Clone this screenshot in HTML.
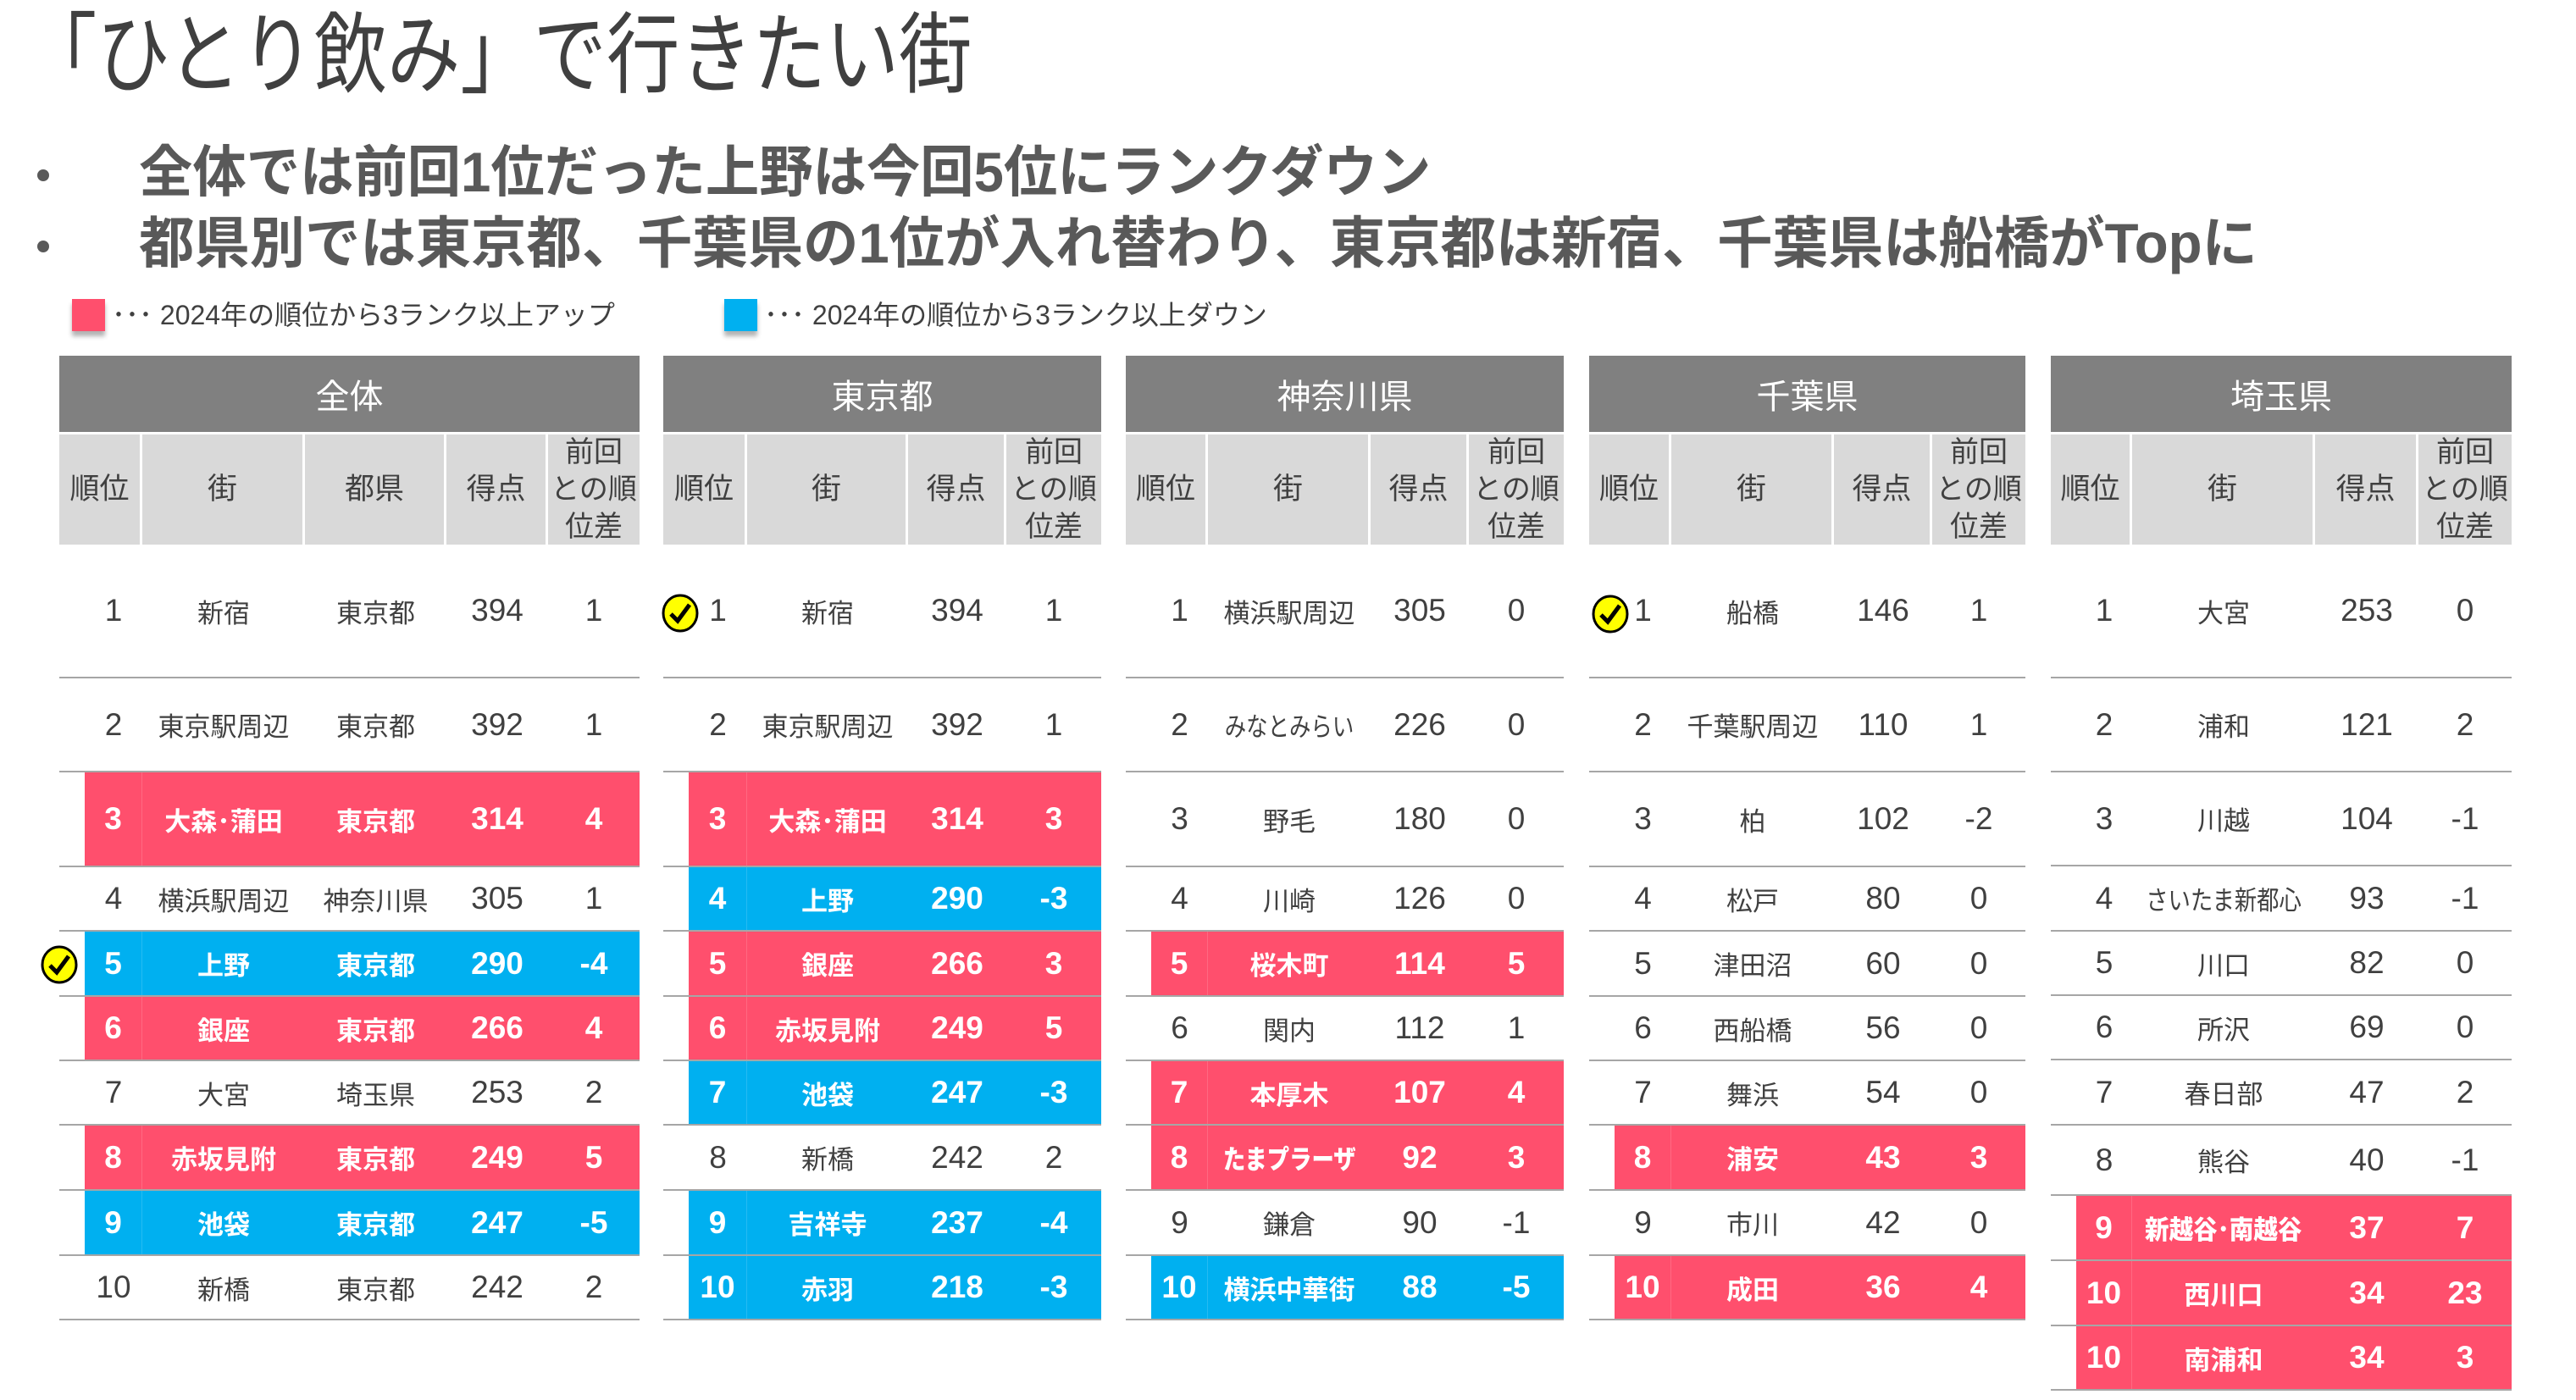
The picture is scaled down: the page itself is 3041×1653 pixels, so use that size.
<!DOCTYPE html>
<html><head><meta charset="utf-8">
<style>
*{margin:0;padding:0;box-sizing:border-box}
body{width:3041px;height:1653px;background:#fff;position:relative;overflow:hidden;font-family:"Liberation Sans","Noto Sans CJK JP",sans-serif;color:#404040}
.abs{position:absolute}
.title{left:28px;top:6px;font-size:104px;line-height:120px;white-space:nowrap;transform:scaleX(0.83);transform-origin:left top;color:#404040}
.bul{font-weight:bold;font-size:66px;line-height:80px;color:#595959;white-space:nowrap;transform-origin:left top}
.dot{width:14px;height:14px;border-radius:50%;background:#595959}
.leg{font-size:32px;line-height:40px;white-space:nowrap;color:#404040;transform-origin:left top}
.sq{width:39px;height:38px;box-shadow:0 6px 5px rgba(0,0,0,0.3)}
.t{position:absolute;top:420px}
.h{position:absolute;left:0;right:0;top:0;height:90px;background:#808080;color:#fff;font-size:40px;display:flex;align-items:center;justify-content:center}
.sh{position:absolute;left:0;right:0;top:93px;height:130px;display:flex}
.sh div{background:#d9d9d9;border-right:3px solid #fff;display:flex;align-items:center;justify-content:center;text-align:center;font-size:35px;line-height:44px;color:#404040}
.sh div:last-child{border-right:none;font-size:34px}
.r{position:absolute;left:0;right:0;display:flex;border-bottom:2px solid #a6a6a6;font-size:31px}
.r .bg{position:absolute;left:30px;right:0;top:0;bottom:0}
.r span{position:relative;display:flex;align-items:center;justify-content:center;white-space:nowrap}
.r span:first-of-type{padding-left:30px}
.n{font-size:37px}
.red .bg{background:#ff4f6d}.blu .bg{background:#00b0f0}
.red,.blu{color:#fff;font-weight:bold}
.red span:first-of-type,.blu span:first-of-type{border-right:1px solid rgba(255,255,255,0.15)}
.ck{position:absolute;width:44px;height:46px}
</style></head><body>
<div class="abs title">「ひとり飲み」で行きたい街</div>
<div class="abs dot" style="left:44px;top:200px"></div>
<div class="abs dot" style="left:44px;top:284px"></div>
<div class="abs bul" style="left:164px;top:163px;transform:scaleX(0.96)">全体では前回1位だった上野は今回5位にランクダウン</div>
<div class="abs bul" style="left:164px;top:247px;transform:scaleX(0.99)">都県別では東京都、千葉県の1位が入れ替わり、東京都は新宿、千葉県は船橋がTopに</div>
<div class="abs sq" style="left:85px;top:353px;background:#ff4f6d"></div>
<div class="abs leg" style="left:132px;top:352px">･･･ 2024年の順位から3ランク以上アップ</div>
<div class="abs sq" style="left:855px;top:353px;background:#00b0f0"></div>
<div class="abs leg" style="left:902px;top:352px">･･･ 2024年の順位から3ランク以上ダウン</div>

<!-- T1 -->
<div class="t" style="left:70px;width:685px">
<div class="h">全体</div>
<div class="sh"><div style="width:98px">順位</div><div style="width:192px">街</div><div style="width:167px">都県</div><div style="width:120px">得点</div><div style="width:108px">前回<br>との順<br>位差</div></div>
<div class="r" style="top:223px;height:158px"><span style="width:98px" class="n">1</span><span style="width:192px">新宿</span><span style="width:167px">東京都</span><span style="width:120px" class="n">394</span><span style="width:108px" class="n">1</span></div>
<div class="r" style="top:381px;height:111px"><span style="width:98px" class="n">2</span><span style="width:192px">東京駅周辺</span><span style="width:167px">東京都</span><span style="width:120px" class="n">392</span><span style="width:108px" class="n">1</span></div>
<div class="r red" style="top:492px;height:112px"><i class="bg"></i><span style="width:98px" class="n">3</span><span style="width:192px">大森･蒲田</span><span style="width:167px">東京都</span><span style="width:120px" class="n">314</span><span style="width:108px" class="n">4</span></div>
<div class="r" style="top:604px;height:76px"><span style="width:98px" class="n">4</span><span style="width:192px">横浜駅周辺</span><span style="width:167px">神奈川県</span><span style="width:120px" class="n">305</span><span style="width:108px" class="n">1</span></div>
<div class="r blu" style="top:680px;height:77px"><i class="bg"></i><span style="width:98px" class="n">5</span><span style="width:192px">上野</span><span style="width:167px">東京都</span><span style="width:120px" class="n">290</span><span style="width:108px" class="n">-4</span></div>
<div class="r red" style="top:757px;height:76px"><i class="bg"></i><span style="width:98px" class="n">6</span><span style="width:192px">銀座</span><span style="width:167px">東京都</span><span style="width:120px" class="n">266</span><span style="width:108px" class="n">4</span></div>
<div class="r" style="top:833px;height:76px"><span style="width:98px" class="n">7</span><span style="width:192px">大宮</span><span style="width:167px">埼玉県</span><span style="width:120px" class="n">253</span><span style="width:108px" class="n">2</span></div>
<div class="r red" style="top:909px;height:77px"><i class="bg"></i><span style="width:98px" class="n">8</span><span style="width:192px">赤坂見附</span><span style="width:167px">東京都</span><span style="width:120px" class="n">249</span><span style="width:108px" class="n">5</span></div>
<div class="r blu" style="top:986px;height:77px"><i class="bg"></i><span style="width:98px" class="n">9</span><span style="width:192px">池袋</span><span style="width:167px">東京都</span><span style="width:120px" class="n">247</span><span style="width:108px" class="n">-5</span></div>
<div class="r" style="top:1063px;height:76px"><span style="width:98px" class="n">10</span><span style="width:192px">新橋</span><span style="width:167px">東京都</span><span style="width:120px" class="n">242</span><span style="width:108px" class="n">2</span></div>
</div>

<!-- T2 -->
<div class="t" style="left:783px;width:517px">
<div class="h">東京都</div>
<div class="sh"><div style="width:99px">順位</div><div style="width:190px">街</div><div style="width:116px">得点</div><div style="width:112px">前回<br>との順<br>位差</div></div>
<div class="r" style="top:223px;height:158px"><span style="width:99px" class="n">1</span><span style="width:190px">新宿</span><span style="width:116px" class="n">394</span><span style="width:112px" class="n">1</span></div>
<div class="r" style="top:381px;height:111px"><span style="width:99px" class="n">2</span><span style="width:190px">東京駅周辺</span><span style="width:116px" class="n">392</span><span style="width:112px" class="n">1</span></div>
<div class="r red" style="top:492px;height:112px"><i class="bg"></i><span style="width:99px" class="n">3</span><span style="width:190px">大森･蒲田</span><span style="width:116px" class="n">314</span><span style="width:112px" class="n">3</span></div>
<div class="r blu" style="top:604px;height:76px"><i class="bg"></i><span style="width:99px" class="n">4</span><span style="width:190px">上野</span><span style="width:116px" class="n">290</span><span style="width:112px" class="n">-3</span></div>
<div class="r red" style="top:680px;height:77px"><i class="bg"></i><span style="width:99px" class="n">5</span><span style="width:190px">銀座</span><span style="width:116px" class="n">266</span><span style="width:112px" class="n">3</span></div>
<div class="r red" style="top:757px;height:76px"><i class="bg"></i><span style="width:99px" class="n">6</span><span style="width:190px">赤坂見附</span><span style="width:116px" class="n">249</span><span style="width:112px" class="n">5</span></div>
<div class="r blu" style="top:833px;height:76px"><i class="bg"></i><span style="width:99px" class="n">7</span><span style="width:190px">池袋</span><span style="width:116px" class="n">247</span><span style="width:112px" class="n">-3</span></div>
<div class="r" style="top:909px;height:77px"><span style="width:99px" class="n">8</span><span style="width:190px">新橋</span><span style="width:116px" class="n">242</span><span style="width:112px" class="n">2</span></div>
<div class="r blu" style="top:986px;height:77px"><i class="bg"></i><span style="width:99px" class="n">9</span><span style="width:190px">吉祥寺</span><span style="width:116px" class="n">237</span><span style="width:112px" class="n">-4</span></div>
<div class="r blu" style="top:1063px;height:76px"><i class="bg"></i><span style="width:99px" class="n">10</span><span style="width:190px">赤羽</span><span style="width:116px" class="n">218</span><span style="width:112px" class="n">-3</span></div>
</div>

<!-- T3 -->
<div class="t" style="left:1329px;width:517px">
<div class="h">神奈川県</div>
<div class="sh"><div style="width:97px">順位</div><div style="width:192px">街</div><div style="width:116px">得点</div><div style="width:112px">前回<br>との順<br>位差</div></div>
<div class="r" style="top:223px;height:158px"><span style="width:97px" class="n">1</span><span style="width:192px">横浜駅周辺</span><span style="width:116px" class="n">305</span><span style="width:112px" class="n">0</span></div>
<div class="r" style="top:381px;height:111px"><span style="width:97px" class="n">2</span><span style="width:192px"><b style="font-weight:normal;display:inline-block;transform:scaleX(0.82)">みなとみらい</b></span><span style="width:116px" class="n">226</span><span style="width:112px" class="n">0</span></div>
<div class="r" style="top:492px;height:112px"><span style="width:97px" class="n">3</span><span style="width:192px">野毛</span><span style="width:116px" class="n">180</span><span style="width:112px" class="n">0</span></div>
<div class="r" style="top:604px;height:76px"><span style="width:97px" class="n">4</span><span style="width:192px">川崎</span><span style="width:116px" class="n">126</span><span style="width:112px" class="n">0</span></div>
<div class="r red" style="top:680px;height:77px"><i class="bg"></i><span style="width:97px" class="n">5</span><span style="width:192px">桜木町</span><span style="width:116px" class="n">114</span><span style="width:112px" class="n">5</span></div>
<div class="r" style="top:757px;height:76px"><span style="width:97px" class="n">6</span><span style="width:192px">関内</span><span style="width:116px" class="n">112</span><span style="width:112px" class="n">1</span></div>
<div class="r red" style="top:833px;height:76px"><i class="bg"></i><span style="width:97px" class="n">7</span><span style="width:192px">本厚木</span><span style="width:116px" class="n">107</span><span style="width:112px" class="n">4</span></div>
<div class="r red" style="top:909px;height:77px"><i class="bg"></i><span style="width:97px" class="n">8</span><span style="width:192px"><b style="display:inline-block;transform:scaleX(0.85)">たまプラーザ</b></span><span style="width:116px" class="n">92</span><span style="width:112px" class="n">3</span></div>
<div class="r" style="top:986px;height:77px"><span style="width:97px" class="n">9</span><span style="width:192px">鎌倉</span><span style="width:116px" class="n">90</span><span style="width:112px" class="n">-1</span></div>
<div class="r blu" style="top:1063px;height:76px"><i class="bg"></i><span style="width:97px" class="n">10</span><span style="width:192px">横浜中華街</span><span style="width:116px" class="n">88</span><span style="width:112px" class="n">-5</span></div>
</div>

<!-- T4 -->
<div class="t" style="left:1876px;width:515px">
<div class="h">千葉県</div>
<div class="sh"><div style="width:97px">順位</div><div style="width:192px">街</div><div style="width:116px">得点</div><div style="width:110px">前回<br>との順<br>位差</div></div>
<div class="r" style="top:223px;height:158px"><span style="width:97px" class="n">1</span><span style="width:192px">船橋</span><span style="width:116px" class="n">146</span><span style="width:110px" class="n">1</span></div>
<div class="r" style="top:381px;height:111px"><span style="width:97px" class="n">2</span><span style="width:192px">千葉駅周辺</span><span style="width:116px" class="n">110</span><span style="width:110px" class="n">1</span></div>
<div class="r" style="top:492px;height:112px"><span style="width:97px" class="n">3</span><span style="width:192px">柏</span><span style="width:116px" class="n">102</span><span style="width:110px" class="n">-2</span></div>
<div class="r" style="top:604px;height:76px"><span style="width:97px" class="n">4</span><span style="width:192px">松戸</span><span style="width:116px" class="n">80</span><span style="width:110px" class="n">0</span></div>
<div class="r" style="top:680px;height:77px"><span style="width:97px" class="n">5</span><span style="width:192px">津田沼</span><span style="width:116px" class="n">60</span><span style="width:110px" class="n">0</span></div>
<div class="r" style="top:757px;height:76px"><span style="width:97px" class="n">6</span><span style="width:192px">西船橋</span><span style="width:116px" class="n">56</span><span style="width:110px" class="n">0</span></div>
<div class="r" style="top:833px;height:76px"><span style="width:97px" class="n">7</span><span style="width:192px">舞浜</span><span style="width:116px" class="n">54</span><span style="width:110px" class="n">0</span></div>
<div class="r red" style="top:909px;height:77px"><i class="bg"></i><span style="width:97px" class="n">8</span><span style="width:192px">浦安</span><span style="width:116px" class="n">43</span><span style="width:110px" class="n">3</span></div>
<div class="r" style="top:986px;height:77px"><span style="width:97px" class="n">9</span><span style="width:192px">市川</span><span style="width:116px" class="n">42</span><span style="width:110px" class="n">0</span></div>
<div class="r red" style="top:1063px;height:76px"><i class="bg"></i><span style="width:97px" class="n">10</span><span style="width:192px">成田</span><span style="width:116px" class="n">36</span><span style="width:110px" class="n">4</span></div>
</div>

<!-- T5 -->
<div class="t" style="left:2421px;width:544px">
<div class="h">埼玉県</div>
<div class="sh"><div style="width:96px">順位</div><div style="width:216px">街</div><div style="width:122px">得点</div><div style="width:110px">前回<br>との順<br>位差</div></div>
<div class="r" style="top:223px;height:158px"><span style="width:96px" class="n">1</span><span style="width:216px">大宮</span><span style="width:122px" class="n">253</span><span style="width:110px" class="n">0</span></div>
<div class="r" style="top:381px;height:111px"><span style="width:96px" class="n">2</span><span style="width:216px">浦和</span><span style="width:122px" class="n">121</span><span style="width:110px" class="n">2</span></div>
<div class="r" style="top:492px;height:111px"><span style="width:96px" class="n">3</span><span style="width:216px">川越</span><span style="width:122px" class="n">104</span><span style="width:110px" class="n">-1</span></div>
<div class="r" style="top:603px;height:77px"><span style="width:96px" class="n">4</span><span style="width:216px"><b style="font-weight:normal;display:inline-block;transform:scaleX(0.85)">さいたま新都心</b></span><span style="width:122px" class="n">93</span><span style="width:110px" class="n">-1</span></div>
<div class="r" style="top:680px;height:76px"><span style="width:96px" class="n">5</span><span style="width:216px">川口</span><span style="width:122px" class="n">82</span><span style="width:110px" class="n">0</span></div>
<div class="r" style="top:756px;height:76px"><span style="width:96px" class="n">6</span><span style="width:216px">所沢</span><span style="width:122px" class="n">69</span><span style="width:110px" class="n">0</span></div>
<div class="r" style="top:832px;height:77px"><span style="width:96px" class="n">7</span><span style="width:216px">春日部</span><span style="width:122px" class="n">47</span><span style="width:110px" class="n">2</span></div>
<div class="r" style="top:909px;height:83px"><span style="width:96px" class="n">8</span><span style="width:216px">熊谷</span><span style="width:122px" class="n">40</span><span style="width:110px" class="n">-1</span></div>
<div class="r red" style="top:992px;height:77px"><i class="bg"></i><span style="width:96px" class="n">9</span><span style="width:216px"><b style="display:inline-block;transform:scaleX(0.92)">新越谷･南越谷</b></span><span style="width:122px" class="n">37</span><span style="width:110px" class="n">7</span></div>
<div class="r red" style="top:1069px;height:77px"><i class="bg"></i><span style="width:96px" class="n">10</span><span style="width:216px">西川口</span><span style="width:122px" class="n">34</span><span style="width:110px" class="n">23</span></div>
<div class="r red" style="top:1146px;height:76px"><i class="bg"></i><span style="width:96px" class="n">10</span><span style="width:216px">南浦和</span><span style="width:122px" class="n">34</span><span style="width:110px" class="n">3</span></div>
</div>

<svg class="ck" style="left:48px;top:1116px" viewBox="0 0 44 46"><ellipse cx="22" cy="23" rx="20" ry="21" fill="#ffff00" stroke="#000" stroke-width="3"/><path d="M11 24 L19 32 L33 13" fill="none" stroke="#000" stroke-width="5"/></svg>
<svg class="ck" style="left:781px;top:701px" viewBox="0 0 44 46"><ellipse cx="22" cy="23" rx="20" ry="21" fill="#ffff00" stroke="#000" stroke-width="3"/><path d="M11 24 L19 32 L33 13" fill="none" stroke="#000" stroke-width="5"/></svg>
<svg class="ck" style="left:1879px;top:702px" viewBox="0 0 44 46"><ellipse cx="22" cy="23" rx="20" ry="21" fill="#ffff00" stroke="#000" stroke-width="3"/><path d="M11 24 L19 32 L33 13" fill="none" stroke="#000" stroke-width="5"/></svg>
</body></html>
